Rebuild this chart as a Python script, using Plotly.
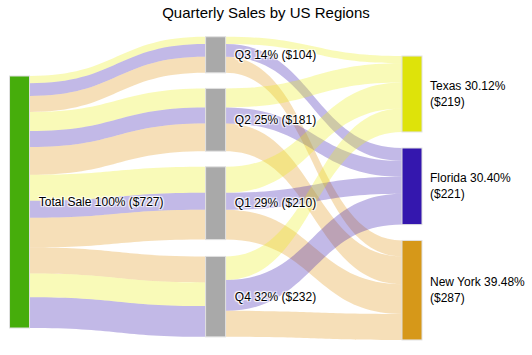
import plotly.graph_objects as go

pad_txt = "\u00a0\u2009"
node_labels = [pad_txt + s for s in ["Total Sale 100% ($727)", "Q1 29% ($210)", "Q2 25% ($181)",
                                     "Q3 14% ($104)", "Q4 32% ($232)"]] + ["", "", ""]
region_labels = ["Texas 30.12%<br>($219)", "Florida 30.40%<br>($221)", "New York 39.48%<br>($287)"]
node_colors = ["#46AD0B", "#A9A9A9", "#A9A9A9", "#A9A9A9", "#A9A9A9", "#DEE30A", "#3417AE", "#D69819"]
node_x = [0.0231, 0.499, 0.499, 0.499, 0.499, 0.9757, 0.9757, 0.9757]
node_y = [0.55, 0.554, 0.276, 0.0593, 0.8655, 0.19, 0.4977, 0.844]

# quarter -> region sales
quarters = ["Q3", "Q2", "Q1", "Q4"]
q_index = {"Q1": 1, "Q2": 2, "Q3": 3, "Q4": 4}
r_index = {"Texas": 5, "Florida": 6, "New York": 7}
region_order = {
    "Q3": ["Texas", "Florida", "New York"],
    "Q2": ["Texas", "Florida", "New York"],
    "Q1": ["Texas", "Florida", "New York"],
    "Q4": ["New York", "Texas", "Florida"],
}
sales = {
    "Q3": {"Texas": 21, "Florida": 37, "New York": 46},
    "Q2": {"Texas": 55, "Florida": 46, "New York": 80},
    "Q1": {"Texas": 75, "Florida": 49, "New York": 86},
    "Q4": {"Texas": 68, "Florida": 89, "New York": 75},
}
link_colors = {"Texas": "rgba(235,240,20,0.3)", "Florida": "rgba(52,23,174,0.3)",
               "New York": "rgba(225,150,20,0.3)"}

src, tgt, val, col = [], [], [], []
for q in quarters:
    for r in region_order[q]:
        src.append(0); tgt.append(q_index[q]); val.append(sales[q][r]); col.append(link_colors[r])
for q in quarters:
    for r in region_order[q]:
        src.append(q_index[q]); tgt.append(r_index[r]); val.append(sales[q][r]); col.append(link_colors[r])

fig = go.Figure(go.Sankey(
    arrangement="fixed",
    node=dict(label=node_labels, color=node_colors, pad=16, thickness=20,
              x=node_x, y=node_y,
              line=dict(color="#e0e0e0", width=1)),
    link=dict(source=src, target=tgt, value=val, color=col),
    textfont=dict(family="Arial, Liberation Sans", size=12, color="black"),
))

# region labels to the right of the region nodes
for lbl, ny in zip(region_labels, node_y[5:]):
    fig.add_annotation(text=lbl, xref="paper", yref="paper", x=1.0146, y=1 - ny,
                       xanchor="left", yanchor="middle", align="left", showarrow=False,
                       font=dict(family="Arial, Liberation Sans", size=12, color="black"))

fig.update_layout(
    width=532, height=355,
    margin=dict(l=10, r=110, t=37, b=18),
    title=dict(text="Quarterly Sales by US Regions", x=0.5, xanchor="center",
               y=1 - 7.5 / 355, yanchor="top",
               font=dict(family="Arial, Liberation Sans", size=15, color="black")),
    paper_bgcolor="white",
    font=dict(family="Arial, Liberation Sans", size=12, color="black"),
)
fig.write_html("out.html", config={"displayModeBar": False},
               post_script="document.body.style.margin='0';")
